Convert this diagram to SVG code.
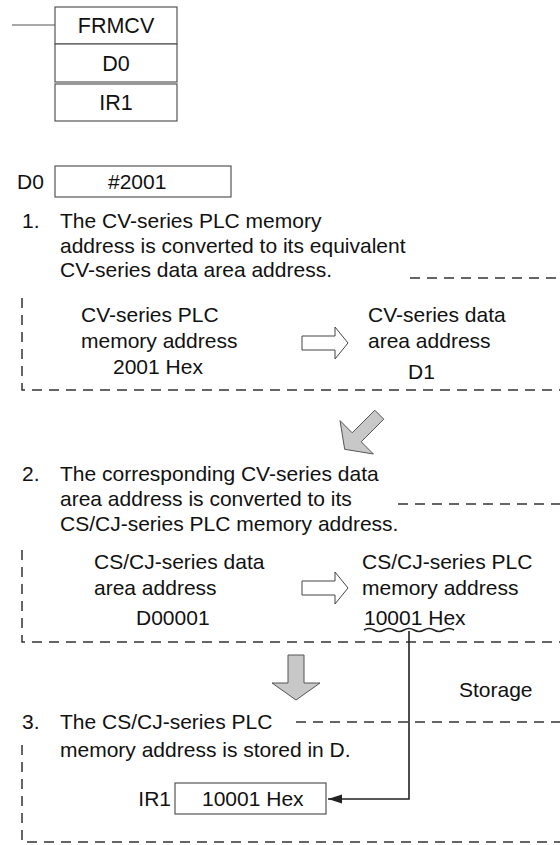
<svg xmlns="http://www.w3.org/2000/svg" width="560" height="845" viewBox="0 0 560 845">
<style>
text{font-family:"Liberation Sans",Arial,sans-serif;font-size:21px;fill:#111}
.box{fill:#fff;stroke:#555;stroke-width:1.2}
.dash{fill:none;stroke:#333;stroke-width:1.5;stroke-dasharray:10,7}
.ln{fill:none;stroke:#222;stroke-width:1.6}
.hollow{fill:#fff;stroke:#444;stroke-width:1}
.gray{fill:#c8c8c8;stroke:#555;stroke-width:1}
</style>
<defs>
<marker id="ah" viewBox="0 0 14 10" refX="14" refY="5" markerWidth="14" markerHeight="10" markerUnits="userSpaceOnUse" orient="auto"><path d="M0,0.5 L14,5 L0,9.5 Z" fill="#222"/></marker>
</defs>
<rect width="560" height="845" fill="#fff"/>
<g id="ladder">
<line x1="12" y1="25" x2="55" y2="25" stroke="#555" stroke-width="1.2"/>
<rect class="box" x="55" y="7" width="122" height="37"/>
<rect class="box" x="55" y="44" width="122" height="38"/>
<rect class="box" x="55" y="84" width="122" height="37"/>
<text x="116" y="33" text-anchor="middle" style="font-size:21.5px">FRMCV</text>
<text x="116" y="71" text-anchor="middle" style="font-size:21.5px">D0</text>
<text x="116" y="110" text-anchor="middle" style="font-size:21.5px">IR1</text>
</g>
<g id="d0">
<text x="17" y="189">D0</text>
<rect class="box" x="55" y="166" width="176" height="31"/>
<text x="108" y="189">#2001</text>
</g>
<g id="step1">
<text x="22" y="228">1.</text>
<text x="60" y="228">The CV-series PLC memory</text>
<text x="60" y="253">address is converted to its equivalent</text>
<text x="60" y="277">CV-series data area address.</text>
<path class="dash" d="M410,278 H560 M22,298 V390 H560"/>
<text x="81" y="322">CV-series PLC</text>
<text x="81" y="348">memory address</text>
<text x="113" y="374">2001 Hex</text>
<text x="368" y="322">CV-series data</text>
<text x="368" y="348">area address</text>
<text x="408" y="379">D1</text>
<path class="hollow" d="M302,336 H335 V327 L348,343 L335,359 V350 H302 Z"/>
</g>
<g id="arrow1">
<path class="gray" d="M344.7,449.3 L373.4,454 L361.2,441.8 L383.8,419.2 L374.8,410.2 L352.2,432.8 L340,420.6 Z"/>
</g>
<g id="step2">
<text x="22" y="481">2.</text>
<text x="60" y="481">The corresponding CV-series data</text>
<text x="60" y="506">area address is converted to its</text>
<text x="60" y="531">CS/CJ-series PLC memory address.</text>
<path class="dash" d="M398,504 H560 M22,550 V642 H560"/>
<text x="94" y="569">CS/CJ-series data</text>
<text x="94" y="595">area address</text>
<text x="136" y="625">D00001</text>
<text x="362" y="569">CS/CJ-series PLC</text>
<text x="362" y="595">memory address</text>
<text x="364" y="625">10001 Hex</text>
<path class="ln" stroke-width="1" d="M364,630 q5,-3 10,0 t10,0 t10,0 t10,0 t10,0 t10,0 t10,0 t10,0 t10,0"/>
<path class="hollow" d="M302,581 H335 V572 L348,588 L335,604 V595 H302 Z"/>
</g>
<g id="arrow2">
<path class="gray" d="M288,655 H304 V683 H320 L296,700 L272,683 H288 Z"/>
</g>
<g id="step3">
<text x="459" y="697">Storage</text>
<text x="22" y="729">3.</text>
<text x="60" y="729">The CS/CJ-series PLC</text>
<text x="60" y="757">memory address is stored in D.</text>
<path class="dash" d="M296,722 H560 M22,745 V842 H560"/>
<text x="171" y="806" text-anchor="end">IR1</text>
<rect class="box" x="175" y="783" width="151" height="31"/>
<text x="202" y="806">10001 Hex</text>
</g>
<g id="connectors">
<path class="ln" d="M409,631 V799 H328" marker-end="url(#ah)"/>
</g>
</svg>
